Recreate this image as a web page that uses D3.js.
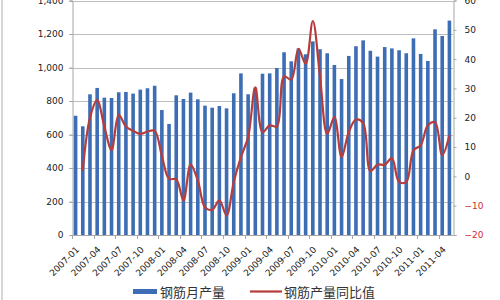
<!DOCTYPE html>
<html>
<head>
<meta charset="utf-8">
<script src="https://cdn.jsdelivr.net/npm/d3@7"></script>
<style>
  body { margin: 0; background: #fff; }
  svg { display: block; }
</style>
</head>
<body>
<div id="chart"></div>
<script>
// rebar output (left axis, 10k t) and y/y growth (right axis, %)
var months = ["2007-01","2007-02","2007-03","2007-04","2007-05","2007-06","2007-07","2007-08","2007-09","2007-10","2007-11","2007-12",
  "2008-01","2008-02","2008-03","2008-04","2008-05","2008-06","2008-07","2008-08","2008-09","2008-10","2008-11","2008-12",
  "2009-01","2009-02","2009-03","2009-04","2009-05","2009-06","2009-07","2009-08","2009-09","2009-10","2009-11","2009-12",
  "2010-01","2010-02","2010-03","2010-04","2010-05","2010-06","2010-07","2010-08","2010-09","2010-10","2010-11","2010-12",
  "2011-01","2011-02","2011-03","2011-04","2011-05"];
var output = [712, 649, 840, 878, 820, 818, 852, 854, 844, 868, 876, 891,
  746, 663, 834, 812, 850, 810, 772, 760, 770, 756, 846, 965,
  840, 880, 963, 965, 997, 1091, 1037, 1114, 1079, 1156, 1109, 1085,
  1015, 931, 1069, 1127, 1162, 1100, 1065, 1122, 1114, 1103, 1085, 1174,
  1081, 1039, 1228, 1188, 1280];
var growth = [null, 2, 20, 26, 17, 9, 21, 17, 15.5, 14.5, 15.3, 15.5,
  7, -0.8, -1, -8.2, 4, -1.4, -10.5, -11.4, -8.2, -13.3, -1.9, 6.6,
  13.4, 30.4, 15.1, 17.4, 17, 34.1, 33, 43.5, 38.4, 53, 34, 14.5,
  20.2, 6.6, 15.1, 19.4, 18.2, 1.8, 4, 4, 6.2, -1.9, -1.9, 8.9,
  10.6, 17.4, 18.5, 7.2, 14];
var tickLabels = ["2007-01","2007-04","2007-07","2007-10","2008-01","2008-04","2008-07","2008-10",
  "2009-01","2009-04","2009-07","2009-10","2010-01","2010-04","2010-07","2010-10","2011-01","2011-04"];
var leftTicks = [0, 200, 400, 600, 800, 1000, 1200, 1400];
var rightTicks = [-20, -10, 0, 10, 20, 30, 40, 50, 60];
var legendNames = ["钢筋月产量", "钢筋产量同比值"];

var width = 500, height = 300;
var plot = { left: 72, right: 453, top: 0.5, bottom: 235 };
var barColor = "#3d6db4", lineColor = "#b63d3b";
var font = "'DejaVu Sans', sans-serif";

var svg = d3.select("#chart").append("svg")
    .attr("width", width)
    .attr("height", height);

var x = d3.scaleBand()
    .domain(months)
    .range([plot.left, plot.right]);

var yL = d3.scaleLinear()
    .domain([0, 1400])
    .range([plot.bottom, plot.top]);

var yR = d3.scaleLinear()
    .domain([-20, 60])
    .range([plot.bottom, plot.top]);

// outer frame edge on the left
svg.append("line")
  .attr("x1", 2).attr("x2", 2)
  .attr("y1", 0).attr("y2", height)
  .style("stroke", "#c8c8c8")
  .style("stroke-width", 1.5);

// gridlines
svg.append("g").selectAll("line")
  .data(leftTicks.filter(function(d) { return d > 0; }))
  .enter().append("line")
  .attr("x1", plot.left - 3)
  .attr("x2", plot.right)
  .attr("y1", function(d) { return Math.round(yL(d)) + 0.5; })
  .attr("y2", function(d) { return Math.round(yL(d)) + 0.5; })
  .style("stroke", "#bdbdbd")
  .style("stroke-width", 1);

// left axis
var leftAxis = svg.append("g")
    .attr("transform", "translate(" + (plot.left + 0.5) + ",0)")
    .call(d3.axisLeft(yL).tickValues(leftTicks).tickSize(3).tickPadding(6)
      .tickFormat(d3.format(",")));
leftAxis.select(".domain").style("stroke", "#a6a6a6");
leftAxis.selectAll(".tick line").style("stroke", "#a6a6a6");
leftAxis.selectAll("text")
  .style("font-family", font)
  .style("font-size", "9px")
  .style("fill", "#222");

// right axis, negatives in red
var rightAxis = svg.append("g")
    .attr("transform", "translate(" + (plot.right + 0.5) + ",0)")
    .call(d3.axisRight(yR).tickValues(rightTicks).tickSize(3).tickPadding(8));
rightAxis.select(".domain").style("stroke", "#a6a6a6");
rightAxis.selectAll(".tick line").style("stroke", "#a6a6a6");
rightAxis.selectAll("text")
  .style("font-family", font)
  .style("font-size", "9px")
  .style("fill", function(d) { return d < 0 ? "#d42a2a" : "#222"; });

// bars
var barW = x.bandwidth() * 0.5;
svg.append("g").selectAll("rect")
  .data(output)
  .enter().append("rect")
  .attr("x", function(d, i) { return x(months[i]) + (x.bandwidth() - barW) / 2; })
  .attr("y", function(d) { return yL(d); })
  .attr("width", barW)
  .attr("height", function(d) { return yL(0) - yL(d); })
  .style("fill", barColor);

// x axis with ticks every three months
svg.append("line")
  .attr("x1", plot.left).attr("x2", plot.right)
  .attr("y1", plot.bottom + 0.5).attr("y2", plot.bottom + 0.5)
  .style("stroke", "#a6a6a6");

svg.append("g").selectAll("line")
  .data(tickLabels)
  .enter().append("line")
  .attr("x1", function(d) { return Math.round(x(d)) + 0.5; })
  .attr("x2", function(d) { return Math.round(x(d)) + 0.5; })
  .attr("y1", plot.bottom)
  .attr("y2", plot.bottom + 4)
  .style("stroke", "#a6a6a6");

svg.append("g").selectAll("text")
  .data(tickLabels)
  .enter().append("text")
  .attr("transform", function(d) {
    return "translate(" + (x(d) + x.bandwidth() / 2 + 2) + "," + (plot.bottom + 13) + ") rotate(-45)";
  })
  .attr("text-anchor", "end")
  .attr("dy", "0.35em")
  .style("font-family", font)
  .style("font-size", "9px")
  .style("fill", "#222")
  .text(function(d) { return d; });

// growth line
var line = d3.line()
    .defined(function(d) { return d != null; })
    .x(function(d, i) { return x(months[i]) + x.bandwidth() / 2; })
    .y(function(d) { return yR(d); })
    .curve(d3.curveCatmullRom.alpha(0.5));

svg.append("path")
  .datum(growth)
  .attr("d", line)
  .style("fill", "none")
  .style("stroke", lineColor)
  .style("stroke-width", 2.2)
  .style("stroke-linejoin", "round");

// legend
var legend = svg.append("g");
legend.append("rect")
  .attr("x", 133).attr("y", 289)
  .attr("width", 24).attr("height", 5)
  .style("fill", barColor);
legend.append("text")
  .attr("x", 160).attr("y", 297)
  .style("font-family", "'Noto Sans CJK SC', sans-serif")
  .style("font-size", "13px")
  .style("fill", "#333")
  .text(legendNames[0]);
legend.append("line")
  .attr("x1", 250).attr("x2", 282)
  .attr("y1", 291.5).attr("y2", 291.5)
  .style("stroke", lineColor)
  .style("stroke-width", 2.2);
legend.append("text")
  .attr("x", 284).attr("y", 297)
  .style("font-family", "'Noto Sans CJK SC', sans-serif")
  .style("font-size", "13px")
  .style("fill", "#333")
  .text(legendNames[1]);
</script>
</body>
</html>
